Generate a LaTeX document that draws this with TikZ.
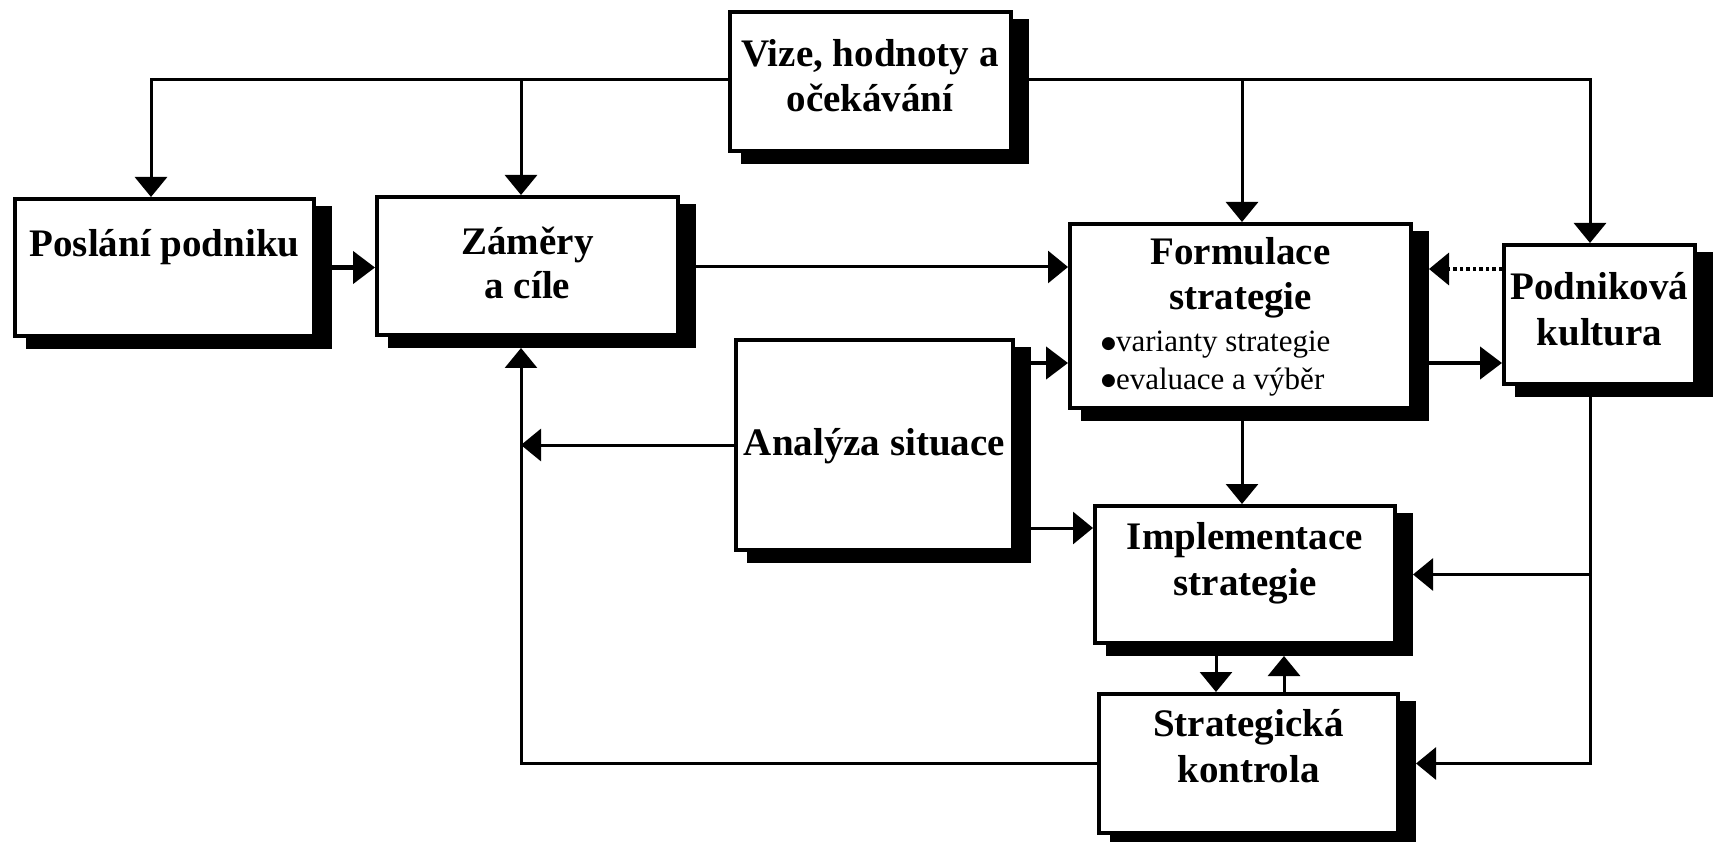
\documentclass[tikz,border=0pt]{standalone}
\usepackage{fontspec}
\setmainfont{Liberation Serif}
\newfontfamily\symbolfont{DejaVu Sans}
\usetikzlibrary{arrows.meta,calc,backgrounds}
\newcommand{\bigdot}{\raisebox{3.5pt}{\symbolfont\fontsize{17}{17}\selectfont ●}}
\begin{document}
\begin{tikzpicture}[x=1pt,y=-1pt,
  box/.style={draw, line width=4pt, fill=white, inner sep=0pt},
  title/.style={font=\bfseries\fontsize{39}{45}\selectfont, inner sep=0pt, anchor=base},
  item/.style={font=\fontsize{31}{37}\selectfont, inner sep=0pt, anchor=base west},
  conn/.style={line width=3pt, -{Triangle[length=20pt,width=32pt]}},
  connthick/.style={line width=4.5pt, -{Triangle[length=22pt,width=32pt]}},
  dotline/.style={line width=3.5pt, dash pattern=on 3.5pt off 3pt},
]
\useasboundingbox (0,0) rectangle (1714,842);

% boxes
\node[box, minimum width=281, minimum height=139] (vize)      at (870.5,81.5) {};
\node[box, minimum width=299, minimum height=137] (poslani)   at (164.5,267.5) {};
\node[box, minimum width=301, minimum height=138] (zamery)    at (527.5,266) {};
\node[box, minimum width=341, minimum height=184] (formulace) at (1240.5,316) {};
\node[box, minimum width=191, minimum height=139] (podnik)    at (1599.5,314.5) {};
\node[box, minimum width=277, minimum height=210] (analyza)   at (874.5,445) {};
\node[box, minimum width=300, minimum height=137] (impl)      at (1245,574.5) {};
\node[box, minimum width=299, minimum height=139] (strat)     at (1248.5,763.5) {};

% black drop shadows behind the boxes
\begin{scope}[on background layer]
  \foreach \n in {vize,poslani,zamery,formulace,podnik,analyza,impl,strat}
    \fill[black] ($(\n.north west)+(13,9)$) rectangle ($(\n.south east)+(16,11)$);
\end{scope}

% box texts
\node[title] (t-vize1) at (870,67)  {Vize, hodnoty a};
\node[title] (t-vize2) at (870,112) {očekávání};
\node[title] (t-posl)  at (164.5,257) {Poslání podniku};
\node[title] (t-zam1)  at (527.5,255) {Záměry};
\node[title] (t-zam2)  at (527.5,299) {a cíle};
\node[title] (t-form1) at (1240.5,265) {Formulace};
\node[title] (t-form2) at (1240.5,310) {strategie};
\node[item]  (t-var)   at (1101,352) {\bigdot varianty strategie};
\node[item]  (t-eval)  at (1101,389) {\bigdot evaluace a výběr};
\node[title] (t-pod1)  at (1599.5,300) {Podniková};
\node[title] (t-pod2)  at (1599.5,346) {kultura};
\node[title] (t-anal)  at (874.5,455) {Analýza situace};
\node[title] (t-imp1)  at (1245,549) {Implementace};
\node[title] (t-imp2)  at (1245,595) {strategie};
\node[title] (t-str1)  at (1248.5,736) {Strategická};
\node[title] (t-str2)  at (1248.5,782) {kontrola};

% columns of the distribution bar
\coordinate (c1) at (151,80);
\coordinate (c2) at (521,80);
\coordinate (c3) at (1242,80);
\coordinate (c4) at (1590,80);
\coordinate (fb) at (strat.west -| c2);

% distribution from the vision box
\draw[conn] (vize.west |- c1) -- (c1) -- (c1 |- poslani.north);
\draw[conn] (c2) -- (c2 |- zamery.north);
\draw[conn] (vize.east |- c4) -- (c4) -- (c4 |- podnik.north);
\draw[conn] (c3) -- (c3 |- formulace.north);

% main flow
\draw[connthick] ($(poslani.east)+(16,0)$) -- (zamery.west |- poslani.east);
\draw[conn] ($(zamery.east)+(16,1)$) -- ($(formulace.west |- zamery.east)+(0,1)$);
\draw[connthick] ($(analyza.east |- 0,363)+(16,0)$) -- (formulace.west |- 0,363);
\draw[connthick] ($(formulace.east |- 0,363)+(16,0)$) -- (podnik.west |- 0,363);
\draw[dotline, -{Triangle[length=20pt,width=32pt]}] (podnik.west |- 0,269) -- ($(formulace.east |- 0,269)+(16,0)$);
\draw[conn] (analyza.west) -- (fb |- analyza.west);
\draw[conn] ($(analyza.east |- 0,528)+(16,0)$) -- (impl.west |- 0,528);
\draw[conn] ($(c3 |- formulace.south)+(0,11)$) -- (c3 |- impl.north);

% implementation and control loop
\draw[conn] ($(impl.south)+(-29,11)$) -- ($(strat.north)+(-32.5,0)$);
\draw[conn] ($(strat.north)+(35.5,0)$) -- ($(impl.south)+(39,11)$);

% feedback from the corporate culture
\draw[conn] ($(c4 |- podnik.south)+(0,11)$) -- (c4 |- strat.east) -- ($(strat.east)+(16,0)$);
\draw[conn] (c4 |- impl.east) -- ($(impl.east)+(16,0)$);

% feedback from strategic control
\draw[conn] (strat.west) -- (fb) -- ($(fb |- zamery.south)+(0,11)$);
\end{tikzpicture}
\end{document}
